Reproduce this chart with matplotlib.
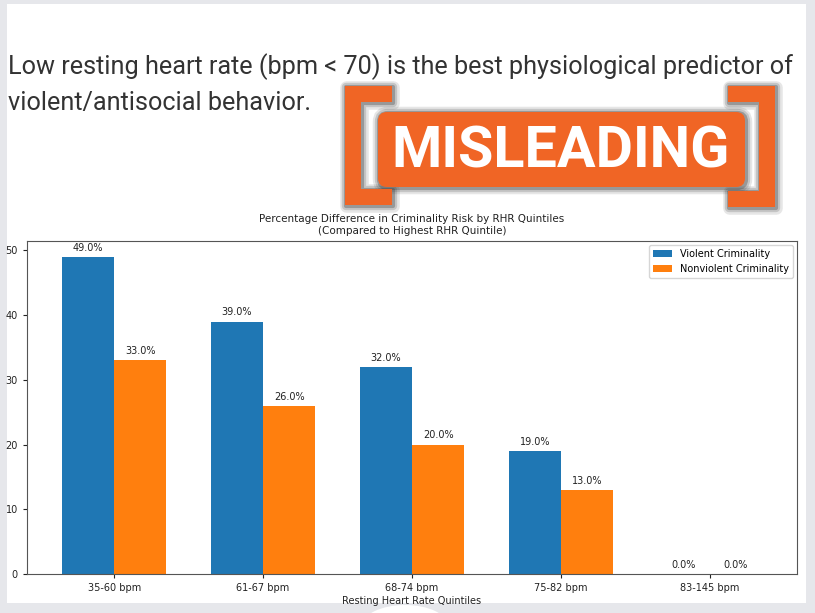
import matplotlib
matplotlib.use("Agg")
import matplotlib.pyplot as plt
import numpy as np
from matplotlib import font_manager
from matplotlib.patches import Rectangle, Polygon, FancyBboxPatch, Ellipse

# dados do gráfico
quintis = ["35-60 bpm", "61-67 bpm", "68-74 bpm", "75-82 bpm", "83-145 bpm"]
violento = [49.0, 39.0, 32.0, 19.0, 0.0]
nao_violento = [33.0, 26.0, 20.0, 13.0, 0.0]

texto_tweet = ["Low resting heart rate (bpm < 70) is the best physiological predictor of",
               "violent/antisocial behavior."]

W, H = 815, 613
nomes = {f.name for f in font_manager.fontManager.ttflist}
fonte_estreita = "Liberation Sans Narrow" if "Liberation Sans Narrow" in nomes else "Roboto"

fig = plt.figure(figsize=(W / 100, H / 100), dpi=100, facecolor="#e6e7eb")

# fundo / cartão do tweet
bg = fig.add_axes([0, 0, 1, 1], zorder=0)
bg.set_xlim(0, W)
bg.set_ylim(H, 0)
bg.axis("off")
bg.add_patch(Rectangle((7, 4), 799, 599, facecolor="white", edgecolor="none"))
bg.add_patch(Ellipse((405, 626), 86, 42, facecolor="white", edgecolor="none"))

renderer = fig.canvas.get_renderer()


def ajustar_largura(t, largura):
    # ajusta o tamanho da fonte para ocupar a largura desejada
    bb = t.get_window_extent(renderer=renderer)
    t.set_fontsize(t.get_fontsize() * largura / bb.width)


t1 = bg.text(8, 74, texto_tweet[0], fontsize=18, family=fonte_estreita, color="#333333", va="baseline")
ajustar_largura(t1, 785)
bg.text(8, 110, texto_tweet[1], fontsize=t1.get_fontsize(), family=fonte_estreita,
        color="#333333", va="baseline")

# gráfico de barras
ax = fig.add_axes([27 / W, (H - 574) / H, 770 / W, 333 / H], zorder=1)
x = np.arange(len(quintis))
largura = 0.35
b1 = ax.bar(x - largura / 2, violento, largura, label="Violent Criminality", color="#1f77b4")
b2 = ax.bar(x + largura / 2, nao_violento, largura, label="Nonviolent Criminality", color="#ff7f0e")
ax.bar_label(b1, fmt="%.1f%%", padding=3, fontsize=7, color="#222222")
ax.bar_label(b2, fmt="%.1f%%", padding=3, fontsize=7, color="#222222")
ax.set_xticks(x)
ax.set_xticklabels(quintis)
ax.tick_params(labelsize=7, length=3, colors="#222222")
ax.set_xlabel("Resting Heart Rate Quintiles", fontsize=7, labelpad=2, color="#222222")
ax.set_title("Percentage Difference in Criminality Risk by RHR Quintiles\n(Compared to Highest RHR Quintile)",
             fontsize=7.5, pad=5, color="#222222")
ax.legend(loc="upper right", fontsize=7, borderaxespad=0.4)
for s in ax.spines.values():
    s.set_color("#555555")

# selo "MISLEADING"
top = fig.add_axes([0, 0, 1, 1], zorder=2)
top.set_xlim(0, W)
top.set_ylim(H, 0)
top.axis("off")
top.patch.set_alpha(0)

laranja = "#f06525"
colchete_esq = [(345, 86), (392, 86), (392, 102), (361, 102), (361, 189), (392, 189), (392, 205), (345, 205)]
colchete_dir = [(775, 86), (728, 86), (728, 102), (759, 102), (759, 191), (728, 191), (728, 207), (775, 207)]

# sombra suave (várias bordas semitransparentes)
for lw, a in [(9, 0.12), (6, 0.18), (3, 0.3)]:
    for pts in (colchete_esq, colchete_dir):
        sombra = [(px + 1, py + 1) for px, py in pts]
        top.add_patch(Polygon(sombra, closed=True, facecolor="none", edgecolor="#333333",
                              lw=lw, alpha=a, joinstyle="round"))
    top.add_patch(FancyBboxPatch((379, 113), 367, 75, boxstyle="round,pad=0,rounding_size=9",
                                 facecolor="none", edgecolor="#333333", lw=lw, alpha=a))

for pts in (colchete_esq, colchete_dir):
    top.add_patch(Polygon(pts, closed=True, facecolor=laranja, edgecolor="none"))
top.add_patch(FancyBboxPatch((378, 112), 367, 75, boxstyle="round,pad=0,rounding_size=9",
                             facecolor=laranja, edgecolor="none"))
t3 = top.text(561, 168, "MISLEADING", fontsize=40, family=fonte_estreita, weight="bold",
              color="white", ha="center", va="baseline")
ajustar_largura(t3, 338)

fig.savefig("out.png", dpi=100, facecolor=fig.get_facecolor())
